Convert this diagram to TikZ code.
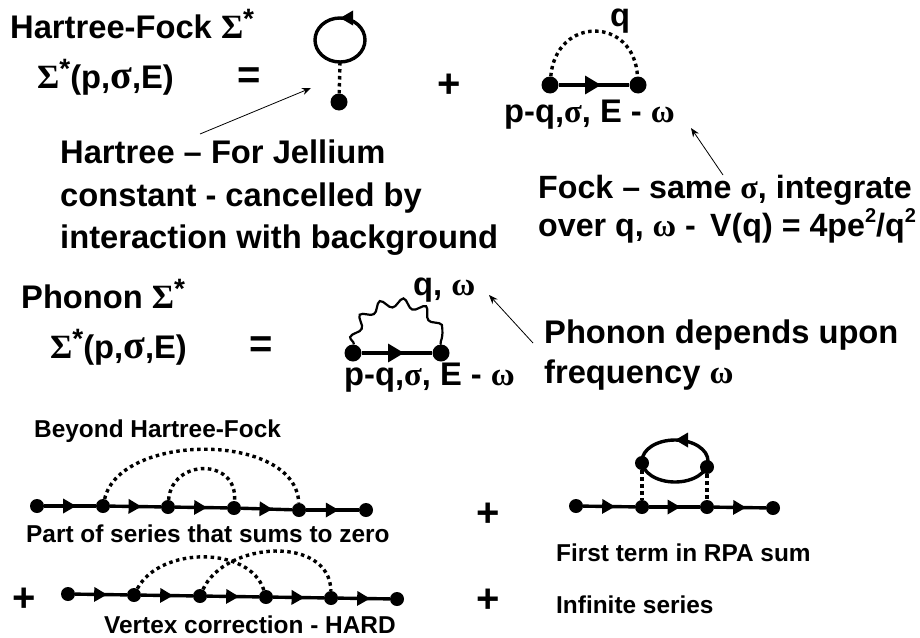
\documentclass[tikz,border=0pt]{standalone}
\usepackage{fontspec}
\setmainfont{Liberation Sans}
\newfontfamily\grk{Liberation Serif}
\usetikzlibrary{arrows.meta,decorations.markings,decorations.pathmorphing}
\newcommand{\upidx}[2]{\raisebox{#1}{\fontsize{20}{20}\selectfont #2}}
\newcommand{\Sig}{{\grk\fontsize{34}{34}\selectfont\char"03A3}\raisebox{.28em}{\fontsize{28}{28}\selectfont *}}
\newcommand{\sg}{{\grk σ}}
\newcommand{\bigsg}{{\grk\fontsize{40}{40}\selectfont σ}}
\newcommand{\om}{{\grk ω}}
\tikzset{
  lab/.style={anchor=base west,inner sep=0pt,font=\fontsize{32.7}{38}\bfseries\selectfont},
  smalllab/.style={anchor=base west,inner sep=0pt,font=\fontsize{24.4}{28}\bfseries\selectfont},
  bigsign/.style={inner sep=0pt,font=\fontsize{40}{40}\bfseries\selectfont},
  vertex/.style={circle,fill=black,inner sep=0pt,minimum size=#1},
  vertex/.default=14pt,
  fermion/.style={line width=3.4pt},
  exch/.style={line width=3.4pt,dash pattern=on 3.5pt off 3.5pt},
  note/.style={line width=0.8pt,-{Stealth[length=9pt,width=7pt]}},
  arrowat/.style={postaction={decorate},decoration={markings,mark=at position #1 with {\arrow{Triangle[length=13pt,width=14pt]}}}},
  bigarrowat/.style={postaction={decorate},decoration={markings,mark=at position #1 with {\arrow{Triangle[length=16pt,width=18pt]}}}}
}
\begin{document}
\begin{tikzpicture}[x=1pt,y=-1pt]
  \useasboundingbox (0,0) rectangle (920,637);
  % top row, Hartree-Fock
  \node[lab] (hftitle) at (10,38) {Hartree-Fock \Sig};
  \node[lab] (hfsigma) at (37,88) {\Sig(p,\bigsg,E)};
  \node[bigsign] (hfeq) at (249,78) {=};
  \node[bigsign] (hfplus) at (449,86) {+};
  \draw[fermion,arrowat=0.25] (365,40) arc[start angle=0,end angle=-360,x radius=25,y radius=22];
  \coordinate (hloop) at (340,62);
  \node[vertex=17pt] (hdot) at (339,102) {};
  \draw[exch] (hloop) -- (hdot);
  \node[vertex=17pt] (f1) at (550,85) {};
  \node[vertex=17pt] (f2) at (638,85) {};
  \draw[fermion,bigarrowat=0.6] (f1) -- (f2);
  \draw[exch] (f1) .. controls (556,16) and (634,16) .. (f2);
  \node[lab] (fq) at (610,27) {q};
  \node[lab] (fmom) at (504,122) {p-q,\sg, E - \om};
  % notes under top row
  \node[lab] (hnote1) at (60,163) {Hartree -- For Jellium};
  \node[lab] (hnote2) at (60,206) {constant - cancelled by};
  \node[lab] (hnote3) at (60,248) {interaction with background};
  \node[lab,font=\fontsize{32.2}{38}\bfseries\selectfont] (fnote1) at (538,198) {Fock -- same \sg, integrate};
  \node[lab,font=\fontsize{32.2}{38}\bfseries\selectfont] (fnote2) at (538,236) {over q, \om{} -\, V(q) = 4pe\upidx{.42em}{2}/q\upidx{.42em}{2}};
  \coordinate (hfrom) at (200,134);
  \coordinate (hto) at (311,88);
  \coordinate (ffrom) at (723,175);
  \coordinate (fto) at (691,128);
  \draw[note] (hfrom) -- (hto);
  \draw[note] (ffrom) -- (fto);
  % phonon row
  \node[lab] (phtitle) at (21,308) {Phonon \Sig};
  \node[lab] (phsigma) at (50,358) {\Sig(p,\bigsg,E)};
  \node[bigsign] (pheq) at (261,347) {=};
  \node[vertex=17pt] (p1) at (353,353) {};
  \node[vertex=17pt] (p2) at (441,353) {};
  \draw[fermion,bigarrowat=0.6] (p1) -- (p2);
  \draw[line width=2.2pt,decorate,decoration={snake,amplitude=4.5pt,segment length=22pt}] (p1) .. controls (359,296) and (435,296) .. (p2);
  \node[lab] (pq) at (413,295) {q, \om};
  \node[lab] (pmom) at (344,385) {p-q,\sg, E - \om};
  \node[lab] (pnote1) at (544,343) {Phonon depends upon};
  \node[lab] (pnote2) at (544,383) {frequency \om};
  \coordinate (pfrom) at (533,343);
  \coordinate (pto) at (489,295);
  \draw[note] (pfrom) -- (pto);
  % beyond Hartree-Fock
  \node[smalllab] (btitle) at (34,437) {Beyond Hartree-Fock};
  \foreach \n/\x/\y in {1/37/506, 2/103/506, 3/168/507, 4/234/508, 5/299/510, 6/366/510}
    \node[vertex] (a\n) at (\x,\y) {};
  \foreach \i/\j in {1/2, 2/3, 3/4, 4/5, 5/6}
    \draw[fermion,arrowat=0.62] (a\i) -- (a\j);
  \draw[exch] (a2) .. controls (120,432) and (296,432) .. (a5);
  \draw[exch] (a3) .. controls (172,458) and (238,458) .. (a4);
  \node[smalllab] (blab) at (26,542) {Part of series that sums to zero};
  \foreach \n/\x/\y in {1/68/594, 2/134/595, 3/200/596, 4/266/597, 5/331/598, 6/397/599}
    \node[vertex] (b\n) at (\x,\y) {};
  \foreach \i/\j in {1/2, 2/3, 3/4, 4/5, 5/6}
    \draw[fermion,arrowat=0.62] (b\i) -- (b\j);
  \draw[exch] (b2) .. controls (160,546) and (250,546) .. (b4);
  \draw[exch] (b3) .. controls (225,541) and (330,535) .. (b5);
  \node[bigsign] (bplus) at (24,600) {+};
  \node[smalllab] (vlab) at (104,633) {Vertex correction - HARD};
  % RPA term
  \foreach \n/\x/\y in {1/576/506, 2/642/507, 3/707/507, 4/773/508}
    \node[vertex] (c\n) at (\x,\y) {};
  \foreach \i/\j in {1/2, 2/3, 3/4}
    \draw[fermion,arrowat=0.62] (c\i) -- (c\j);
  \draw[fermion,arrowat=0.25] (708,461) arc[start angle=0,end angle=-360,x radius=33,y radius=21];
  \node[vertex] (r1) at (642,463) {};
  \node[vertex] (r2) at (707,467) {};
  \draw[exch] (r1) -- (c2);
  \draw[exch] (r2) -- (c3);
  \node[bigsign] (cplus) at (488,515) {+};
  \node[bigsign] (dplus) at (488,601) {+};
  \node[smalllab] (clab) at (556,561) {First term in RPA sum};
  \node[smalllab] (dlab) at (556,613) {Infinite series};
\end{tikzpicture}
\end{document}
